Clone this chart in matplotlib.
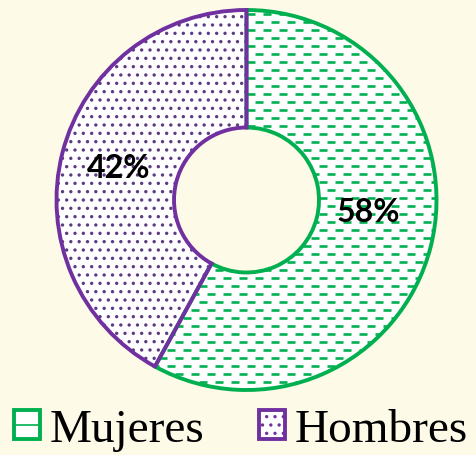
import numpy as np
import matplotlib
matplotlib.use("Agg")
import matplotlib.pyplot as plt
from matplotlib.patches import Patch

plt.rcParams['lines.scale_dashes'] = False
plt.rcParams['hatch.linewidth'] = 1.2

# datos
categorias = ["Mujeres", "Hombres"]
porcentajes = [58, 42]
etiquetas = ["58%", "42%"]

bg = '#FEFAE8'
verde = '#00B050'
morado = '#7030A0'
punto = '#5E3A82'

W, H = 477, 456
fig = plt.figure(figsize=(W / 100, H / 100), dpi=100, facecolor=bg)

# donut centrado en (246.5, 201) px, radio 190 px
R = 190
m = 1.03
cx, cy = 246.5, 201
ax = fig.add_axes([(cx - R * m) / W, (H - cy - R * m) / H, 2 * R * m / W, 2 * R * m / H])
ax.set_facecolor('none')

ancho = 1 - 72.5 / R
wedges, _ = ax.pie(porcentajes, startangle=90, counterclock=False, radius=1,
                   colors=['white', 'white'],
                   wedgeprops=dict(width=ancho, linewidth=0))
wedges[1].set_hatch('..')
wedges[1].set_edgecolor(punto)
wedges[1].set_linewidth(0)

# rayas discontinuas (relleno de Mujeres)
paso = 8 / R
px = 0.72
for i, y in enumerate(np.arange(-1, 1 + paso, paso)):
    off = 0 if i % 2 == 0 else 8 * px
    ln, = ax.plot([-1.05, 1.05], [y, y], color=verde, lw=1.9,
                  linestyle=(off, (8 * px, 8 * px)), solid_capstyle='butt',
                  dash_capstyle='butt', zorder=2)
    ln.set_clip_path(wedges[0])

# bordes encima
bordes, _ = ax.pie(porcentajes, startangle=90, counterclock=False, radius=1,
                   wedgeprops=dict(width=ancho, linewidth=2.8, facecolor='none'))
bordes[0].set_edgecolor(verde)
bordes[1].set_edgecolor(morado)
for b in bordes:
    b.set_zorder(3)

ax.set_xlim(-m, m)
ax.set_ylim(-m, m)
ax.set_aspect('equal')
ax.axis('off')

# etiquetas de porcentaje
pos = [(0.642, -0.061), (-0.673, 0.169)]
for t, (x, y) in zip(etiquetas, pos):
    ax.text(x, y, t, ha='center', va='center', fontsize=23, fontweight='bold',
            family='Lato', color='black', zorder=4)

# leyenda
handles = [Patch(facecolor='white', edgecolor=verde, hatch='-', linewidth=2.8),
           Patch(facecolor='white', edgecolor=morado, hatch='..', linewidth=2.8)]
fig.legend(handles, categorias, loc='center', bbox_to_anchor=(0.505, 0.055),
           ncol=2, frameon=False, prop={'family': 'Liberation Serif', 'size': 34},
           handlelength=0.55, handleheight=0.55, handletextpad=0.2,
           columnspacing=1.15, borderpad=0, borderaxespad=0)

fig.savefig('out.png', dpi=100, facecolor=bg)
